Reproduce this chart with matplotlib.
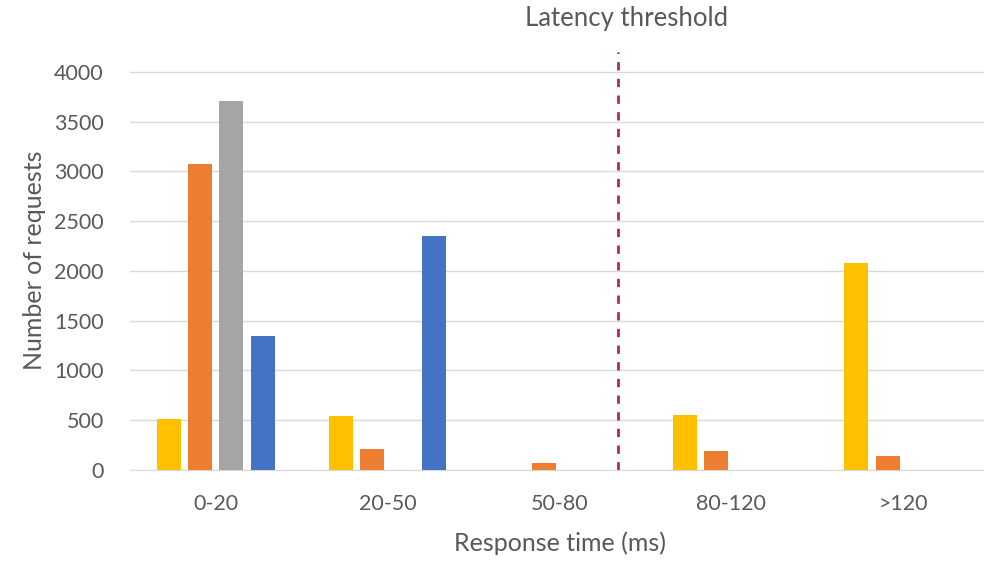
import numpy as np
import matplotlib.pyplot as plt

plt.rcParams['font.family'] = ['Lato', 'DejaVu Sans']

# Response-time buckets and request counts per series
buckets = ["0-20", "20-50", "50-80", "80-120", ">120"]
series_a = [510, 545, 5, 555, 2080]
series_b = [3075, 210, 75, 190, 140]
series_c = [3705, 0, 5, 5, 5]
series_d = [1345, 2350, 5, 0, 5]
yticks = [0, 500, 1000, 1500, 2000, 2500, 3000, 3500, 4000]
threshold_x = 2.34

colors = ['#FFC000', '#ED7D31', '#A5A5A5', '#4472C4']
text_col = '#595959'

fig = plt.figure(figsize=(9.84, 5.63), dpi=100)
ax = fig.add_axes([130 / 984, 93 / 563, 859 / 984, 420 / 563])

x = np.arange(len(buckets))
pitch = 0.181
width = 0.14
for i, (vals, c) in enumerate(zip([series_a, series_b, series_c, series_d], colors)):
    ax.bar(x + (i - 1.5) * pitch, vals, width=width, color=c, zorder=3)

ax.set_xlim(-0.5, 4.5)
ax.set_ylim(0, 4220)
ax.set_yticks(yticks)
ax.set_xticks(x)
ax.set_xticklabels(buckets)
ax.yaxis.grid(True, color='#D9D9D9', linewidth=1, zorder=0)
ax.set_axisbelow(True)
for s in ['top', 'right', 'left']:
    ax.spines[s].set_visible(False)
ax.spines['bottom'].set_color('#D9D9D9')
ax.tick_params(axis='both', length=0, labelsize=15.5, colors=text_col)
ax.tick_params(axis='x', pad=17)
ax.tick_params(axis='y', pad=19)

ax.axvline(threshold_x, ymin=0, ymax=0.995, color='#B0303A', linestyle=(0, (3, 3)),
           linewidth=2, zorder=4)
ax.text(threshold_x + 0.05, 1.076, "Latency threshold", transform=ax.get_xaxis_transform(),
        ha='center', va='center', fontsize=18.5, color=text_col)

ax.set_xlabel("Response time (ms)", fontsize=18, color=text_col, labelpad=13)
ax.set_ylabel("Number of requests", fontsize=18, color=text_col, labelpad=6)

fig.savefig("out.png", dpi=100)
